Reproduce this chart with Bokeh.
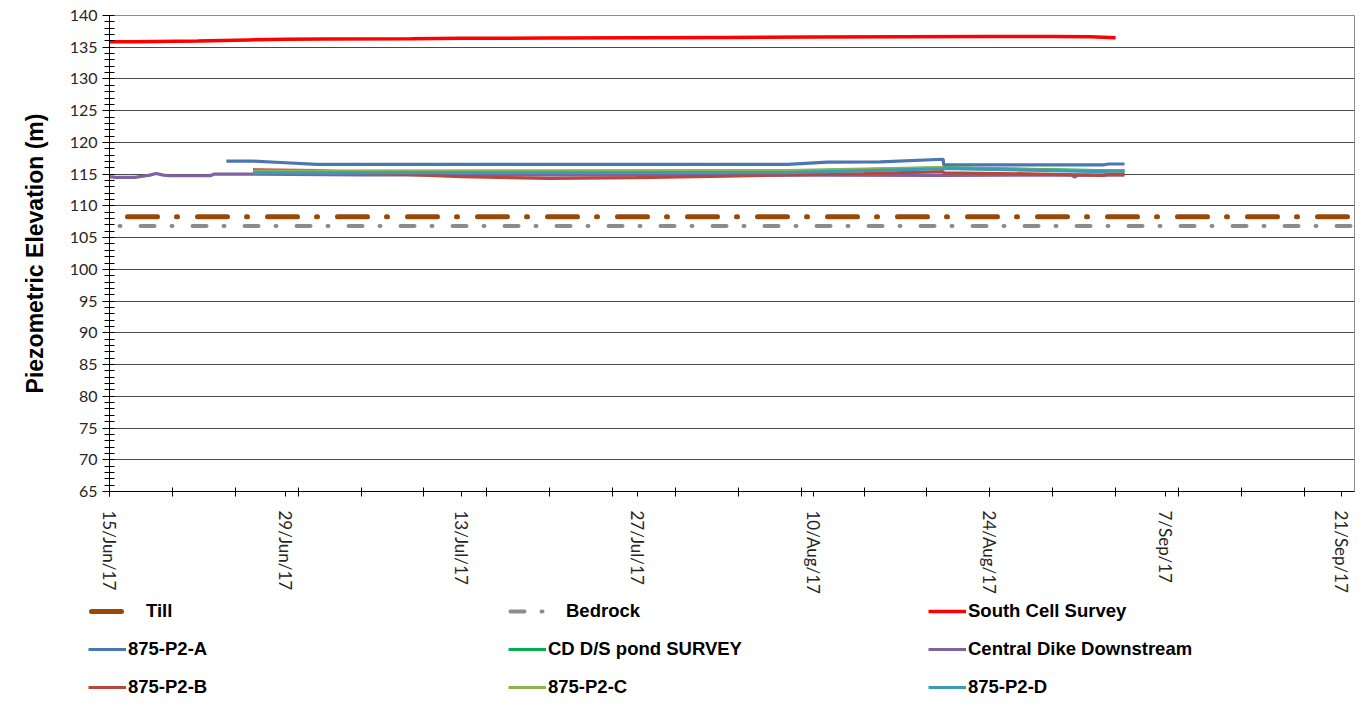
import math
import pandas as pd
from bokeh.plotting import figure
from bokeh.models import Range1d, FixedTicker, SingleIntervalTicker, Legend, LegendItem
from bokeh.embed import file_html
from bokeh.resources import INLINE

# ---------------- data ----------------
start_date = "2017-06-15"
end_date = "2017-09-22"
tick_dates = ["2017-06-15", "2017-06-29", "2017-07-13", "2017-07-27",
              "2017-08-10", "2017-08-24", "2017-09-07", "2017-09-21"]

till_dates = ["2017-06-15", "2017-09-22"]
till_vals = [108.3, 108.3]

bedrock_dates = ["2017-06-15", "2017-09-22"]
bedrock_vals = [106.85, 106.85]

south_dates = ["2017-06-15", "2017-06-17", "2017-06-22", "2017-06-26", "2017-06-29",
               "2017-07-02", "2017-07-09", "2017-07-13", "2017-07-20", "2017-07-27",
               "2017-08-03", "2017-08-10", "2017-08-17", "2017-08-24", "2017-08-29",
               "2017-09-01", "2017-09-03"]
south_vals = [135.87, 135.87, 136.0, 136.15, 136.25, 136.3, 136.35, 136.4, 136.45,
              136.5, 136.55, 136.6, 136.65, 136.7, 136.7, 136.65, 136.5]

p2a_dates = ["2017-06-24 07:00", "2017-06-26 10:00", "2017-06-29 00:00", "2017-07-01 12:00",
             "2017-08-07 22:00", "2017-08-11 02:00", "2017-08-15 07:00", "2017-08-20 07:00",
             "2017-08-20 08:00", "2017-09-02 00:00", "2017-09-02 10:00", "2017-09-03 17:00"]
p2a_vals = [117.05, 117.05, 116.8, 116.55, 116.55, 116.9, 116.95, 117.35,
            116.45, 116.45, 116.6, 116.6]

cdpond_dates = ["2017-06-26 10:00", "2017-08-07 22:00", "2017-08-20 07:00", "2017-09-03 17:00"]
cdpond_vals = [115.4, 115.45, 116.0, 115.5]

cdd_dates = ["2017-06-15 00:00", "2017-06-15 12:00", "2017-06-17 00:00", "2017-06-18 05:00",
             "2017-06-18 17:00", "2017-06-19 07:00", "2017-06-19 19:00", "2017-06-23 00:00",
             "2017-06-23 07:00", "2017-06-26 10:00", "2017-07-05 00:00", "2017-08-10 00:00",
             "2017-08-20 00:00", "2017-08-30 12:00", "2017-08-30 18:00", "2017-08-31 00:00",
             "2017-09-03 17:00"]
cdd_vals = [114.6, 114.5, 114.5, 114.85, 115.1, 114.85, 114.75, 114.75,
            115.0, 115.0, 114.9, 114.85, 114.8, 114.85, 114.55, 114.85, 114.85]

p2b_dates = ["2017-06-26 10:00", "2017-07-01 12:00", "2017-07-08 00:00", "2017-07-13 00:00",
             "2017-07-20 00:00", "2017-07-27 00:00", "2017-08-03 00:00", "2017-08-07 22:00",
             "2017-08-14 00:00", "2017-08-20 07:00", "2017-08-20 08:00", "2017-08-27 00:00",
             "2017-09-02 00:00", "2017-09-02 10:00", "2017-09-03 17:00"]
p2b_vals = [115.7, 115.55, 115.0, 114.6, 114.35, 114.45, 114.7, 114.9,
            115.1, 115.4, 115.2, 115.05, 114.8, 115.0, 115.0]

p2c_dates = ["2017-06-26 10:00", "2017-08-07 22:00", "2017-08-20 07:00", "2017-08-20 08:00",
             "2017-09-02 00:00", "2017-09-02 10:00", "2017-09-03 17:00"]
p2c_vals = [115.5, 115.55, 116.05, 115.95, 115.5, 115.55, 115.55]

p2d_dates = ["2017-06-26 10:00", "2017-08-07 22:00", "2017-08-20 07:00", "2017-08-20 08:00",
             "2017-09-02 00:00", "2017-09-02 10:00", "2017-09-03 17:00"]
p2d_vals = [115.2, 115.25, 115.85, 115.9, 115.4, 115.5, 115.5]

series_names = ["Till", "Bedrock", "South Cell Survey", "875-P2-A", "CD D/S pond SURVEY",
                "Central Dike Downstream", "875-P2-B", "875-P2-C", "875-P2-D"]

# ---------------- helpers ----------------
T0 = pd.Timestamp(start_date)


def days(dates):
    return [(pd.Timestamp(d) - T0).total_seconds() / 86400.0 for d in dates]


def label(d):
    t = pd.Timestamp(d)
    return f"{t.day}/{t.strftime('%b')}/{t.strftime('%y')}"


x_end = days([end_date])[0]
major = days(tick_dates)
minor = [float(v) for v in range(0, int(x_end) + 1, 5)]

styles = [
    dict(line_color="#984807", line_width=5, line_dash="30 19 1 20", line_dash_offset=52, line_cap="round"),
    dict(line_color="#8c8c8c", line_width=4, line_dash="14 17 1 20", line_dash_offset=21, line_cap="round"),
    dict(line_color="#ff0000", line_width=3.5),
    dict(line_color="#4a77b0", line_width=3.2),
    dict(line_color="#00b050", line_width=3.2),
    dict(line_color="#7f62a0", line_width=3.2),
    dict(line_color="#b8473f", line_width=3.2),
    dict(line_color="#8fb34f", line_width=3.2),
    dict(line_color="#3d9bb3", line_width=3.2),
]
data = [
    (till_dates, till_vals), (bedrock_dates, bedrock_vals), (south_dates, south_vals),
    (p2a_dates, p2a_vals), (cdpond_dates, cdpond_vals), (cdd_dates, cdd_vals),
    (p2b_dates, p2b_vals), (p2c_dates, p2c_vals), (p2d_dates, p2d_vals),
]

p = figure(width=1363, height=596, output_backend="svg", toolbar_location=None,
           x_range=Range1d(0, x_end), y_range=Range1d(65, 140),
           min_border_left=109, min_border_right=9, min_border_top=15, min_border_bottom=100)
p.background_fill_color = "white"
p.outline_line_color = "#8c8c8c"
p.outline_line_width = 1

p.xgrid.visible = False
p.ygrid.grid_line_color = "#4a4a4a"
p.ygrid.grid_line_width = 1
p.ygrid.ticker = SingleIntervalTicker(interval=5)

ya = p.yaxis[0]
ya.ticker = SingleIntervalTicker(interval=5, num_minor_ticks=5)
ya.axis_label = "Piezometric Elevation (m)"
ya.axis_label_text_font = "Liberation Sans"
ya.axis_label_text_font_style = "bold"
ya.axis_label_text_font_size = "23px"
ya.axis_label_text_color = "black"
ya.axis_label_standoff = 19
ya.major_label_text_font = "Lato"
ya.major_label_text_font_size = "16px"
ya.major_label_text_color = "#262626"
ya.major_tick_in = 0
ya.major_tick_out = 7
ya.minor_tick_in = 5
ya.minor_tick_out = 5
ya.axis_line_color = "black"
ya.major_tick_line_color = "black"
ya.minor_tick_line_color = "black"

xa = p.xaxis[0]
xa.ticker = FixedTicker(ticks=major, minor_ticks=minor)
xa.major_label_overrides = {v: label(d) for v, d in zip(major, tick_dates)}
xa.major_label_orientation = -math.pi / 2
xa.major_label_text_font = "Lato"
xa.major_label_text_font_size = "17px"
xa.major_label_text_color = "#262626"
xa.major_tick_in = 0
xa.major_tick_out = 5
xa.minor_tick_in = 4
xa.minor_tick_out = 5
xa.axis_line_color = "black"
xa.major_tick_line_color = "black"
xa.minor_tick_line_color = "black"
xa.major_label_standoff = 14

for (dts, vals), st in zip(data, styles):
    p.line(days(dts), vals, **st)

# ---------------- legend strip (separate root, below the chart) ----------------
LG_H = 110
lg = figure(width=1363, height=LG_H, output_backend="svg", toolbar_location=None,
            x_range=Range1d(0, 1), y_range=Range1d(0, 1),
            x_axis_location=None, y_axis_location=None,
            min_border_left=0, min_border_right=0, min_border_top=0, min_border_bottom=0)
lg.xgrid.visible = False
lg.ygrid.visible = False
lg.outline_line_color = None

col_x = [88, 508, 928]
row_c = [15, 53, 91]
ROW_H = 30
nan = float("nan")
for i, (name, st) in enumerate(zip(series_names, styles)):
    st = dict(st)
    standoff = 2
    gw = 38
    if name == "Till":
        st["line_dash_offset"] = 67
        standoff = 20
    elif name == "Bedrock":
        st["line_dash_offset"] = 50
        gw = 40
        standoff = 18
    r = lg.line([nan, nan], [nan, nan], **st)
    c, rw = i % 3, i // 3
    top = row_c[rw] - ROW_H // 2
    lgd = Legend(items=[LegendItem(label=name, renderers=[r])],
                 location=(col_x[c], LG_H - top - ROW_H), padding=0, margin=0, spacing=0,
                 glyph_width=gw, glyph_height=20, label_height=ROW_H,
                 label_standoff=standoff, label_text_font="Liberation Sans",
                 label_text_font_style="bold", label_text_font_size="18.5px",
                 label_text_color="black", border_line_color=None,
                 background_fill_alpha=0)
    lg.add_layout(lgd, "center")

open("out.html", "w").write(file_html([p, lg], INLINE))
